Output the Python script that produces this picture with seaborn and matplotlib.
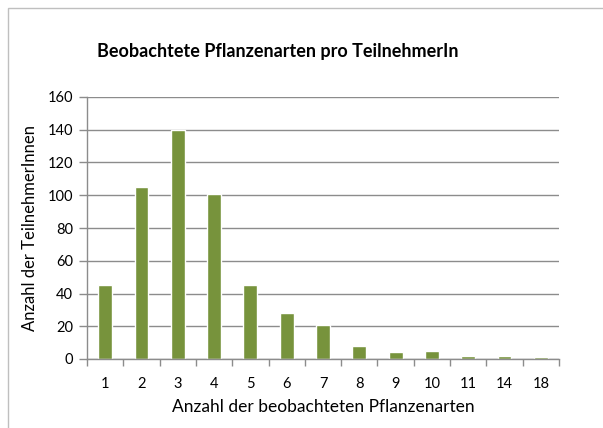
import matplotlib.pyplot as plt
import matplotlib.patches as patches
import numpy as np
import pandas as pd
import seaborn as sns

# ----------------------------------------------------
# Data
# ----------------------------------------------------
species_counts = ["1", "2", "3", "4", "5", "6", "7", "8", "9", "10", "11", "14", "18"]
participants = [45, 105, 140, 101, 45, 28, 21, 8, 4, 5, 2, 2, 1]

BAR_COLOR = "#77933C"
GRID_COLOR = "#8C8C8C"

df = pd.DataFrame({"species": species_counts, "count": participants})

sns.set_theme(style="white")
plt.rcParams["font.family"] = ["Lato", "DejaVu Sans"]
plt.rcParams.update({
    "text.color": "black",
    "axes.labelcolor": "black",
    "xtick.labelcolor": "black",
    "ytick.labelcolor": "black",
})

fig = plt.figure(figsize=(6.03, 4.28), dpi=100)
ax = fig.add_axes([87 / 603, 1 - 359 / 428, (559 - 87) / 603, (359 - 97) / 428])

sns.barplot(data=df, x="species", y="count", color=BAR_COLOR,
            width=0.38, saturation=1, ax=ax, order=species_counts)

ax.set_xlim(-0.5, len(species_counts) - 0.5)
ax.set_ylim(0, 160)
ax.set_yticks(range(0, 161, 20))
ax.yaxis.grid(True, color=GRID_COLOR, linewidth=1)
ax.set_axisbelow(True)

# tick marks between categories, labels centred
ax.set_xticks(np.arange(-0.5, len(species_counts), 1), minor=True)
ax.tick_params(axis="x", which="major", length=0, labelsize=10.5, pad=13)
ax.tick_params(axis="x", which="minor", length=5, color=GRID_COLOR, width=1, bottom=True)
ax.tick_params(axis="y", length=6, color=GRID_COLOR, width=1, left=True, labelsize=10.5, pad=4)

for side in ["top", "right"]:
    ax.spines[side].set_visible(False)
for side in ["left", "bottom"]:
    ax.spines[side].set_color(GRID_COLOR)
    ax.spines[side].set_linewidth(1)

ax.set_xlabel("Anzahl der beobachteten Pflanzenarten", fontsize=12.5, labelpad=6)
ax.set_ylabel("Anzahl der TeilnehmerInnen", fontsize=12, labelpad=7)

fig.text(0.46, 1 - 51 / 428, "Beobachtete Pflanzenarten pro TeilnehmerIn",
         ha="center", va="center", fontsize=13, fontweight="bold", color="black")

# outer chart frame
fig.patches.append(patches.Rectangle((8 / 603, -0.1), 1.2, 1 - 8 / 428 + 0.1,
                                     transform=fig.transFigure, fill=False,
                                     edgecolor="#BFBFBF", linewidth=1))

fig.savefig("out.png", dpi=100)
